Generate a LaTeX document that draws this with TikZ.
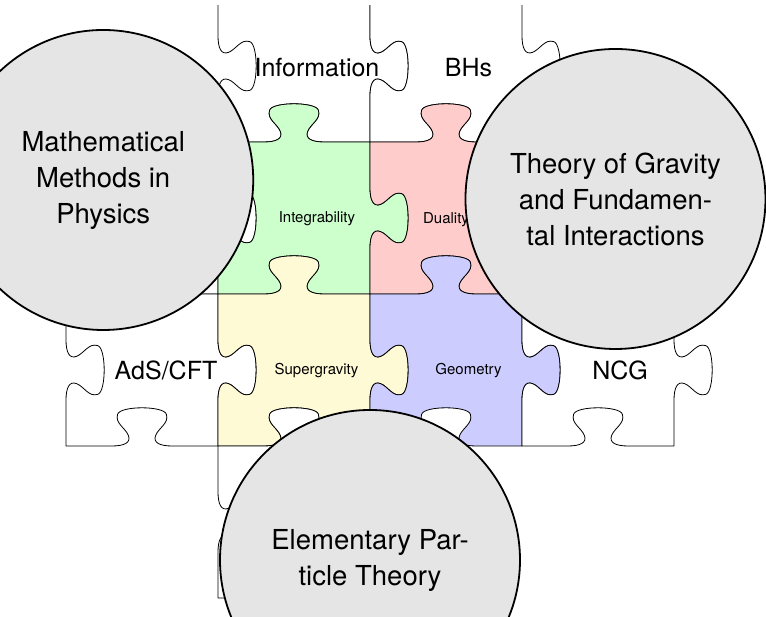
\documentclass[tikz,border=0pt]{standalone}
\usepackage{fontspec}
\setmainfont{TeX Gyre Heros}

\definecolor{intcol}{RGB}{204,255,204}
\definecolor{dualcol}{RGB}{255,204,204}
\definecolor{sugcol}{RGB}{255,250,214}
\definecolor{geocol}{RGB}{204,204,255}
\definecolor{circfill}{RGB}{229,229,229}

% One side of a jigsaw piece, from (#1,#2) along the unit vector (#3,#4).
% #5 = 1: tab bulging out of the piece, -1: blank cut into it, 0: flat.
\tikzset{
  jigedge/.style n args={5}{insert path={
    -- ({#1+0.30*(#3)},{#2+0.30*(#4)})
    .. controls ({#1+0.38*(#3)},{#2+0.38*(#4)})
            and ({#1+0.43*(#3)+0.02*(#5)*(#4)},{#2+0.43*(#4)-0.02*(#5)*(#3)})
    .. ({#1+0.41*(#3)+0.07*(#5)*(#4)},{#2+0.41*(#4)-0.07*(#5)*(#3)})
    .. controls ({#1+0.39*(#3)+0.12*(#5)*(#4)},{#2+0.39*(#4)-0.12*(#5)*(#3)})
            and ({#1+0.32*(#3)+0.15*(#5)*(#4)},{#2+0.32*(#4)-0.15*(#5)*(#3)})
    .. ({#1+0.34*(#3)+0.21*(#5)*(#4)},{#2+0.34*(#4)-0.21*(#5)*(#3)})
    .. controls ({#1+0.36*(#3)+0.265*(#5)*(#4)},{#2+0.36*(#4)-0.265*(#5)*(#3)})
            and ({#1+0.64*(#3)+0.265*(#5)*(#4)},{#2+0.64*(#4)-0.265*(#5)*(#3)})
    .. ({#1+0.66*(#3)+0.21*(#5)*(#4)},{#2+0.66*(#4)-0.21*(#5)*(#3)})
    .. controls ({#1+0.68*(#3)+0.15*(#5)*(#4)},{#2+0.68*(#4)-0.15*(#5)*(#3)})
            and ({#1+0.61*(#3)+0.12*(#5)*(#4)},{#2+0.61*(#4)-0.12*(#5)*(#3)})
    .. ({#1+0.59*(#3)+0.07*(#5)*(#4)},{#2+0.59*(#4)-0.07*(#5)*(#3)})
    .. controls ({#1+0.57*(#3)+0.02*(#5)*(#4)},{#2+0.57*(#4)-0.02*(#5)*(#3)})
            and ({#1+0.62*(#3)},{#2+0.62*(#4)})
    .. ({#1+0.70*(#3)},{#2+0.70*(#4)})
    -- ({#1+(#3)},{#2+(#4)})
  }},
  piece/.style={draw=black, line width=0.8pt, line join=round},
  bigcirc/.style={circle, draw=black, line width=1.8pt, fill=circfill,
    minimum size=300pt, inner sep=0pt, align=center,
    font=\fontsize{27.5}{36}\selectfont},
  outerlabel/.style={anchor=base, inner sep=0pt, font=\fontsize{25}{30}\selectfont},
  innerlabel/.style={anchor=base, inner sep=0pt, font=\fontsize{15}{18}\selectfont},
}

% #1 fill, (#2,#3) lower-left corner, then bottom, right, top, left sides
\newcommand\jigpiece[7]{%
  \path[piece, fill=#1] ({#2},{#3})
    [jigedge={#2}{#3}{1}{0}{#4}]
    [jigedge={#2+1}{#3}{0}{1}{#5}]
    [jigedge={#2+1}{#3+1}{-1}{0}{#6}]
    [jigedge={#2}{#3+1}{0}{-1}{#7}]
    -- cycle;}

\begin{document}
\begin{tikzpicture}[x=152pt, y=152pt]
\useasboundingbox (-0.4342,-0.125) rectangle (4.6053,3.9342);
\clip (-0.4342,-0.125) rectangle (4.6053,3.9342);

% the puzzle
\begin{scope}
  \clip (-0.5,-0.2) rectangle (4.7,3.8947);
  \jigpiece{white}{0}{2}{-1}{1}{0}{0}
  \jigpiece{white}{1}{3}{-1}{1}{0}{-1}
  \jigpiece{white}{2}{3}{-1}{1}{0}{-1}
  \jigpiece{intcol}{1}{2}{-1}{1}{1}{-1}
  \jigpiece{dualcol}{2}{2}{-1}{1}{1}{-1}
  \jigpiece{white}{0}{1}{-1}{1}{1}{-1}
  \jigpiece{sugcol}{1}{1}{-1}{1}{1}{-1}
  \jigpiece{geocol}{2}{1}{-1}{1}{1}{-1}
  \jigpiece{white}{3}{1}{-1}{1}{1}{-1}
  \jigpiece{white}{1}{0}{0}{1}{1}{-1}
\end{scope}

% labels on the pieces
\node[outerlabel] (info) at (1.651,3.434) {Information};
\node[outerlabel] (bhs)  at (2.648,3.434) {BHs};
\node[innerlabel] (integ) at (1.651,2.470) {Integrability};
\node[innerlabel] (dual)  at (2.500,2.467) {Duality};
\node[innerlabel] (sugra) at (1.648,1.472) {Supergravity};
\node[innerlabel] (geom)  at (2.648,1.472) {Geometry};
\node[outerlabel] (ads) at (0.658,1.439) {AdS/CFT};
\node[outerlabel] (ncg) at (3.645,1.439) {NCG};

% research areas
\node[bigcirc] (mmp) at (0.245,2.75) {Mathematical\\Methods in\\Physics};
\node[bigcirc] (tgf) at (3.615,2.625) {Theory of Gravity\\and Fundamen-\\tal Interactions};
\node[bigcirc] (ept) at (2.0,0.25) {Elementary Par-\\ticle Theory};
\end{tikzpicture}
\end{document}
